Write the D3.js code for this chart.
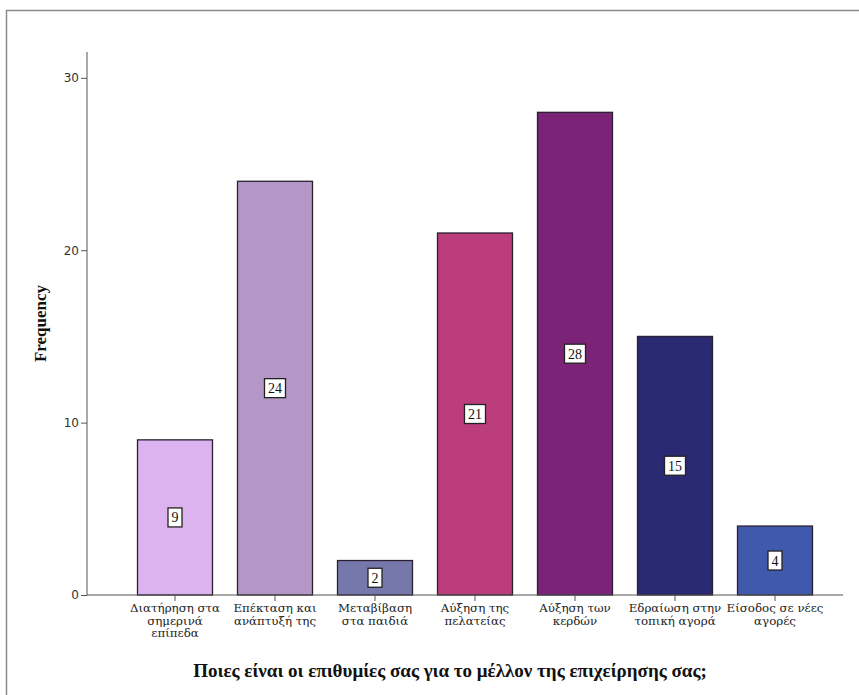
<!DOCTYPE html>
<html><head><meta charset="utf-8">
<script src="https://cdn.jsdelivr.net/npm/d3@7"></script>
<style>body{margin:0;background:#fff}svg{display:block}</style>
</head><body>
<svg id="c" width="859" height="695"></svg>
<script>
const categories = ["Διατήρηση στα σημερινά επίπεδα","Επέκταση και ανάπτυξή της","Μεταβίβαση στα παιδιά","Αύξηση της πελατείας","Αύξηση των κερδών","Εδραίωση στην τοπική αγορά","Είσοδος σε νέες αγορές"];
const labelLines = [["Διατήρηση στα","σημερινά","επίπεδα"],["Επέκταση και","ανάπτυξή της"],["Μεταβίβαση","στα παιδιά"],["Αύξηση της","πελατείας"],["Αύξηση των","κερδών"],["Εδραίωση στην","τοπική αγορά"],["Είσοδος σε νέες","αγορές"]];
const values = [9,24,2,21,28,15,4];
const colors = ["#dcb3ef","#b597c7","#7677ab","#bb3d7b","#7b2477","#292a72","#3f59ad"];
const yTicks = [0,10,20,30];
const yTitle = "Frequency";
const xTitle = "Ποιες είναι οι επιθυμίες σας για το μέλλον της επιχείρησης σας;";

const svg = d3.select("#c");
svg.append("rect").attr("x",6.5).attr("y",10.5).attr("width",900).attr("height",700)
  .attr("fill","none").attr("stroke","#8a8a8a").attr("stroke-width",1.5);

const x = d3.scaleBand().domain(categories).range([125,825]).paddingInner(0.25).paddingOuter(0.125);
const y = d3.scaleLinear().domain([0,31.5]).range([595,52]);

// axes
const gy = svg.append("g").attr("transform","translate(87,0)")
  .call(d3.axisLeft(y).tickValues(yTicks).tickSize(6).tickPadding(2).tickFormat(d3.format("d")));
gy.select(".domain").attr("stroke","#555").attr("d","M0,52V595");
gy.selectAll(".tick line").attr("stroke","#555");
gy.selectAll(".tick text").attr("font-family","DejaVu Sans").attr("font-size",12).attr("fill","#333");

// bars
svg.append("g").selectAll("rect").data(values).join("rect")
  .attr("x",(d,i)=>x(categories[i])).attr("width",x.bandwidth())
  .attr("y",d=>y(d)).attr("height",d=>y(0)-y(d))
  .attr("fill",(d,i)=>colors[i]).attr("stroke","#2a2030").attr("stroke-width",1.3);

const gx = svg.append("g").attr("transform","translate(0,595)")
  .call(d3.axisBottom(x).tickSize(6).tickFormat(""));
gx.select(".domain").attr("stroke","#555").attr("d","M87,0H843");
gx.selectAll(".tick line").attr("stroke","#555");

// x labels
const xl = svg.append("g");
labelLines.forEach((lines,i)=>{
  const cx = x(categories[i])+x.bandwidth()/2;
  lines.forEach((l,j)=>xl.append("text").attr("x",cx).attr("y",612+j*12.5)
    .attr("text-anchor","middle").attr("font-family","DejaVu Serif").attr("font-size",11.8)
    .attr("fill","#222").text(l));
});

// value labels
const vl = svg.append("g");
values.forEach((v,i)=>{
  const cx = x(categories[i])+x.bandwidth()/2, cy = y(v/2);
  const s = String(v);
  const w = s.length*7+7;
  vl.append("rect").attr("x",cx-w/2).attr("y",cy-9.5).attr("width",w).attr("height",19)
    .attr("fill","#fff").attr("stroke","#222").attr("stroke-width",1.3);
  vl.append("text").attr("x",cx).attr("y",cy+5).attr("text-anchor","middle")
    .attr("font-family","Liberation Serif").attr("font-size",14).attr("fill","#111").text(s);
});

// titles
svg.append("text").attr("transform","translate(46,"+((52+595)/2)+") rotate(-90)")
  .attr("text-anchor","middle").attr("font-family","Liberation Serif").attr("font-weight","bold")
  .attr("font-size",17).attr("fill","#111").text(yTitle);
svg.append("text").attr("x",450).attr("y",677).attr("text-anchor","middle")
  .attr("font-family","Liberation Serif").attr("font-weight","bold").attr("font-size",19)
  .attr("fill","#111").text(xTitle);
</script>
</body></html>
